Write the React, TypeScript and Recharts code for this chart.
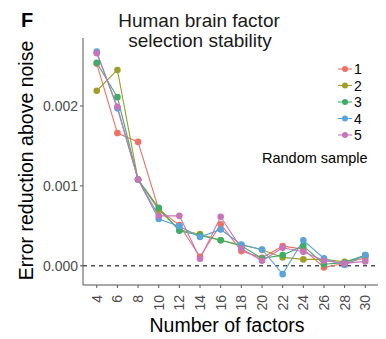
import React from 'react';
import { LineChart, Line, XAxis, YAxis, ReferenceLine } from 'recharts';

// number of factors (x)
const factors = [4, 6, 8, 10, 12, 14, 16, 18, 20, 22, 24, 26, 28, 30];

// error reduction above noise, one array per random sample
const sample1 = [0.00253, 0.00166, 0.00155, 0.000705, 0.00051, 0.000113, 0.00052, 0.000184, 0.0001, 0.000246, 0.000209, -0.00002, 0.00003, 0.0001];
const sample2 = [0.00219, 0.00245, 0.00108, 0.0007, 0.00045, 0.000396, 0.00032, 0.00026, 0.0002, 0.000105, 0.00008, 0.00008, 0.00005, 0.00012];
const sample3 = [0.00254, 0.00211, 0.00108, 0.000725, 0.000438, 0.00038, 0.00032, 0.00025, 0.0000925, 0.000134, 0.00025, 0.00002, 0.00004, 0.000134];
const sample4 = [0.00268, 0.00197, 0.00108, 0.000585, 0.000496, 0.00036, 0.000455, 0.000267, 0.000205, -0.000104, 0.00032, 0.0000925, 0.00001, 0.000134];
const sample5 = [0.00266, 0.00199, 0.00108, 0.000625, 0.000625, 0.000088, 0.000613, 0.000217, 0.0000625, 0.000225, 0.000175, 0.0000625, 0.00003, 0.000055];

const sampleNames = ['1', '2', '3', '4', '5'];
const sampleColors = ['#EE7164', '#A09D2A', '#3DAD68', '#5AA3DC', '#C774B9'];
const allSamples = [sample1, sample2, sample3, sample4, sample5];

const yTicks = [0, 0.001, 0.002];

const data = factors.map((f, i) => {
  const row: Record<string, number> = { factors: f };
  allSamples.forEach((s, k) => {
    row['s' + (k + 1)] = s[i];
  });
  return row;
});

const FONT = '"Liberation Sans", Arial, sans-serif';
const TICK_COLOR = '#4D4D4D';

const XTick = (props: any) => {
  const { x, y, payload } = props;
  return (
    <text
      x={0}
      y={0}
      dy="0.35em"
      transform={`translate(${x},${y + 5}) rotate(-90)`}
      textAnchor="end"
      fontSize={14}
      fontFamily={FONT}
      fill={TICK_COLOR}
    >
      {payload.value}
    </text>
  );
};

export default function App() {
  return (
    <div style={{ position: 'absolute', left: 0, top: 0, width: 386, height: 339, background: '#fff' }}>
      <LineChart
        width={386}
        height={339}
        data={data}
        margin={{ top: 38, right: 8, left: 0, bottom: 0 }}
      >
        <XAxis
          dataKey="factors"
          type="number"
          domain={[2.67, 31.23]}
          ticks={factors}
          allowDataOverflow
          height={54}
          stroke="#555"
          tickSize={3}
          tick={<XTick />}
          interval={0}
        />
        <YAxis
          type="number"
          domain={[-0.00024, 0.00285]}
          ticks={yTicks}
          allowDataOverflow
          width={83}
          stroke="#555"
          tickSize={3}
          tickFormatter={(v: number) => v.toFixed(3)}
          tick={{ fontSize: 14, fontFamily: FONT, fill: TICK_COLOR }}
        />
        <ReferenceLine y={0} stroke="#000" strokeDasharray="4 4" strokeWidth={1} />
        {sampleNames.map((name, k) => (
          <Line
            key={name}
            dataKey={'s' + (k + 1)}
            name={name}
            type="linear"
            stroke={sampleColors[k]}
            strokeWidth={1.1}
            dot={{ r: 3.3, fill: sampleColors[k], stroke: sampleColors[k], strokeWidth: 0 }}
            isAnimationActive={false}
          />
        ))}
      </LineChart>
      <svg
        width={386}
        height={339}
        style={{ position: 'absolute', left: 0, top: 0, pointerEvents: 'none' }}
        fontFamily={FONT}
      >
        <text x={21} y={27} fontSize={20} fontWeight="bold" fill="#000">F</text>
        <text x={199} y={26.5} fontSize={19} textAnchor="middle" fill="#1a1a1a">Human brain factor</text>
        <text x={200} y={47} fontSize={19} textAnchor="middle" fill="#1a1a1a">selection stability</text>
        <text
          x={0}
          y={0}
          transform="translate(33,160.5) rotate(-90)"
          fontSize={19.5}
          textAnchor="middle"
          fill="#000"
        >
          Error reduction above noise
        </text>
        <text x={227} y={332} fontSize={19.5} textAnchor="middle" fill="#000">Number of factors</text>
        {sampleNames.map((name, k) => {
          const cy = 69 + k * 16.5;
          return (
            <g key={name}>
              <line x1={338} x2={352} y1={cy} y2={cy} stroke={sampleColors[k]} strokeWidth={1.1} />
              <circle cx={345} cy={cy} r={3} fill={sampleColors[k]} />
              <text x={354} y={cy + 5} fontSize={14} fill="#000">{name}</text>
            </g>
          );
        })}
        <text x={262} y={163} fontSize={14.5} fill="#000">Random sample</text>
      </svg>
    </div>
  );
}
